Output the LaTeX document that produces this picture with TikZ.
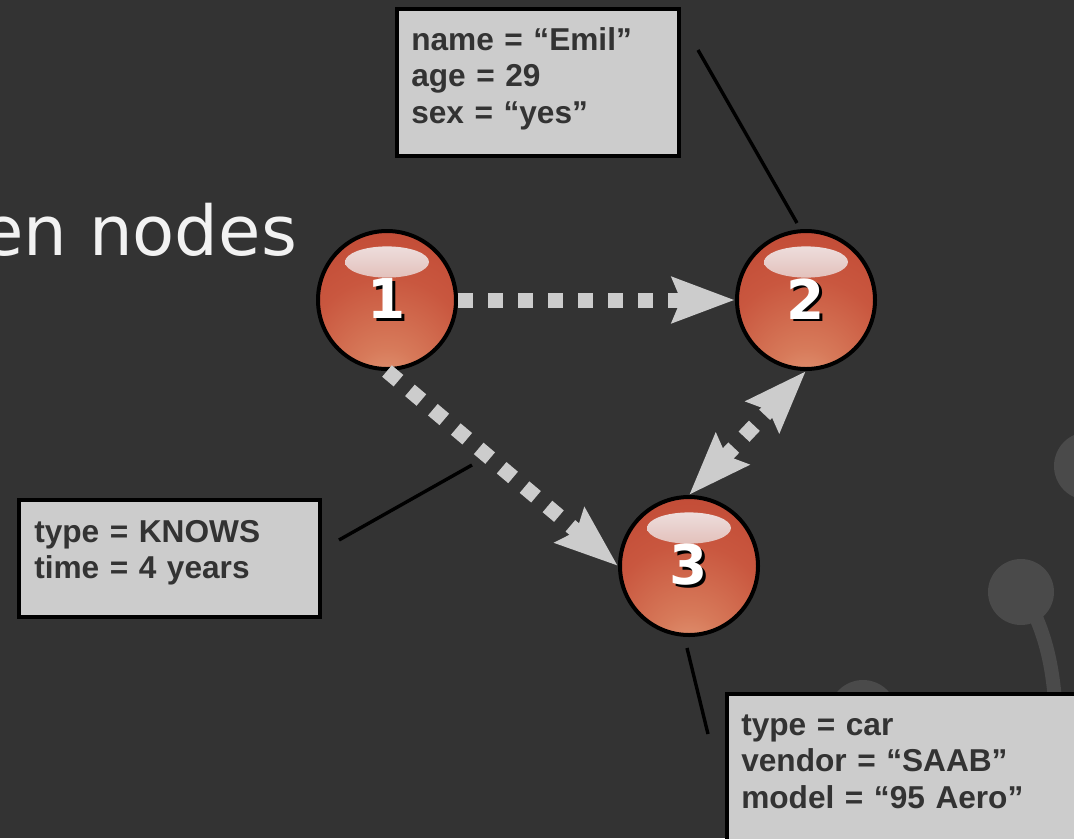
\documentclass[tikz,border=0pt]{standalone}
\usepackage{fontspec}
\usetikzlibrary{arrows.meta}
\newfontfamily\titlefont{DejaVu Sans}
\newfontfamily\digitfont{DejaVu Sans}
\newfontfamily\propfont{Liberation Sans}
\definecolor{bgcol}{HTML}{333333}
\definecolor{decorcol}{HTML}{4A4A4A}
\definecolor{boxgray}{HTML}{CCCCCC}
\definecolor{inkgray}{HTML}{333333}
\definecolor{ballhi}{HTML}{E49C7A}
\definecolor{ballwarm}{HTML}{D77A5A}
\definecolor{ballmid}{HTML}{C9573F}
\definecolor{ballred}{HTML}{BF4632}
\definecolor{balldark}{HTML}{A83424}
\definecolor{hltop}{HTML}{F2ECEC}
\definecolor{hlbot}{HTML}{C66B5C}
\pgfdeclareradialshading{ballglow}{\pgfpoint{0bp}{-34bp}}{%
  color(0bp)=(ballhi); color(12bp)=(ballwarm); color(30bp)=(ballmid);
  color(50bp)=(ballred); color(72bp)=(ballred); color(84bp)=(balldark)}
\newcommand{\balldigit}[1]{\rlap{\kern0.6mm\raisebox{-0.6mm}{\color{black}#1}}#1}
\tikzset{>={Stealth[length=15.5mm, width=11mm, inset=2mm]}}
\tikzset{
  ball/.style={circle, minimum size=34.5mm, inner sep=0pt, draw=black, line width=1mm,
    shading=ballglow, text=white, font=\digitfont\bfseries\fontsize{39}{45}\selectfont,
    path picture={
      \shade[top color=hltop, bottom color=hlbot]
        ([yshift=9.5mm]path picture bounding box.center) ellipse [x radius=10.5mm, y radius=3.9mm];
    }},
  propbox/.style={draw=black, fill=boxgray, line width=0.875mm, outer sep=0pt, inner sep=0pt, anchor=north west},
  proptext/.style={anchor=base west, inner sep=0pt, text=inkgray, text width=80mm, align=left,
    font=\propfont\bfseries\fontsize{22.5}{26}\selectfont},
  rel/.style={draw=boxgray, line width=3.75mm, dash pattern=on 3.75mm off 3.75mm},
  pin/.style={draw=black, line width=0.85mm},
  decor/.style={fill=decorcol}
}
\begin{document}
\begin{tikzpicture}[x=0.25mm, y=-0.25mm]
  \useasboundingbox (0,0) rectangle (1074,838);
  \clip (0,0) rectangle (1074,838);
  \fill[bgcol] (0,0) rectangle (1074,838);
  \fill[decor] (1088,466) circle (34);
  \fill[decor] (1021,592) circle (33);
  \fill[decor] (863,714) circle (34);
  \draw[decorcol, line width=3.5mm] (1035,615) .. controls (1046,640) and (1052,665) .. (1055,700);

  \node[anchor=base west, inner sep=0pt, text=white!95!black,
    font=\titlefont\fontsize{49}{56}\selectfont] (heading) at (-19,255) {en nodes};

  \node[propbox, minimum width=70.5mm, minimum height=36.75mm] (emil) at (397,9) {};
  \node[proptext] (emil text) at (411,50) {name = “Emil”\\ age = 29\\ sex = “yes”};
  \node[propbox, minimum width=75.25mm, minimum height=29.25mm] (knows) at (19,500) {};
  \node[proptext] (knows text) at (34,542) {type = KNOWS\\ time = 4 years};
  \node[propbox, minimum width=100mm, minimum height=50mm] (saab) at (727,694) {};
  \node[proptext] (saab text) at (741,735) {type = car\\ vendor = “SAAB”\\ model = “95 Aero”};

  \node[ball] (n1) at (387,300) {\balldigit{1}};
  \node[ball] (n2) at (806,300) {\balldigit{2}};
  \node[ball] (n3) at (689,566) {\balldigit{3}};

  \coordinate (emil pin) at (698,50);
  \coordinate (emil end) at (797,223);
  \coordinate (knows pin) at (339,540);
  \coordinate (knows end) at (472,465);
  \coordinate (saab pin) at (708,734);
  \coordinate (saab end) at (687,648);
  \draw[pin] (emil pin) -- (emil end);
  \draw[pin] (knows pin) -- (knows end);
  \draw[pin] (saab pin) -- (saab end);

  \draw[rel, ->] (n1) -- (n2);
  \draw[rel, ->] (n1.south) -- (n3.west);
  \draw[rel, <->] (n3.north) -- (n2.south);
\end{tikzpicture}
\end{document}
